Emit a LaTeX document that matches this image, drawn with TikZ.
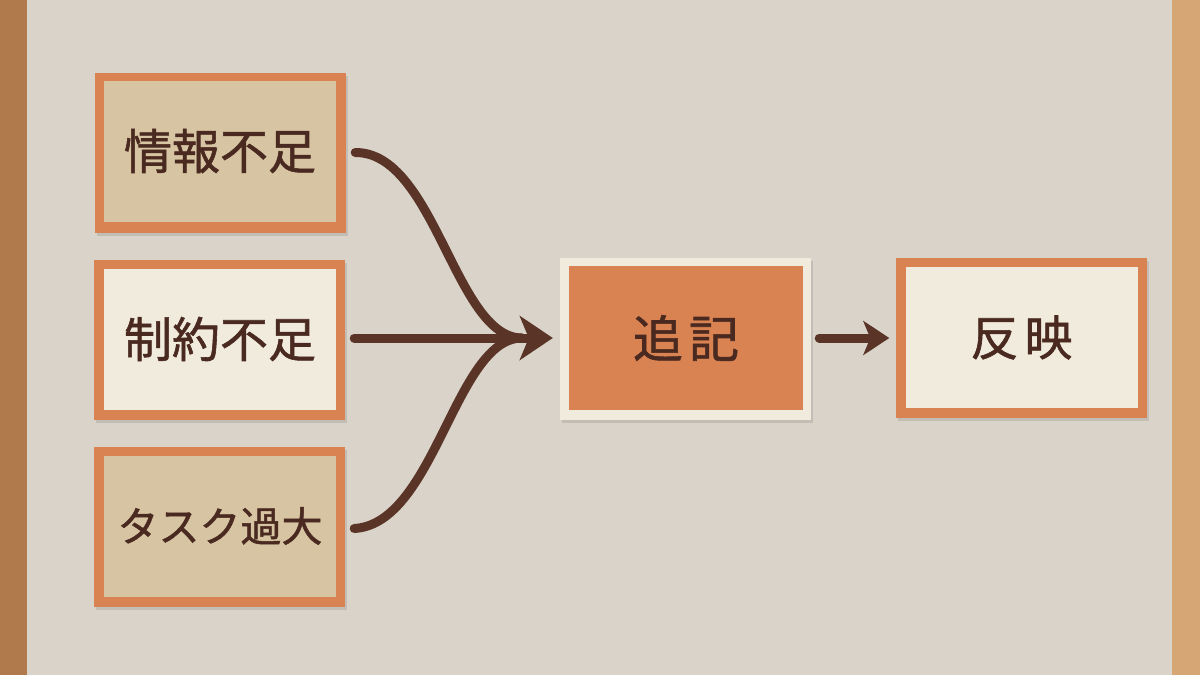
\documentclass[tikz,border=0pt]{standalone}
\usepackage{fontspec}
\newfontfamily\cjk[FakeBold=1.2]{Noto Sans CJK JP}
\usetikzlibrary{arrows.meta,shadows}
\definecolor{woodL}{HTML}{B07A4C}
\definecolor{woodR}{HTML}{D6A675}
\definecolor{linen}{HTML}{D9D3C9}
\definecolor{orng}{HTML}{D98252}
\definecolor{kraft}{HTML}{D7C4A3}
\definecolor{cream}{HTML}{F1EBDE}
\definecolor{ink}{HTML}{4A2A20}
\definecolor{arrowc}{HTML}{5A3427}
\tikzset{
  cardout/.style={draw=none, minimum width=#1, drop shadow={shadow xshift=2pt, shadow yshift=-3pt, opacity=0.25}},
  outerO/.style={cardout=251pt, fill=orng, minimum height=160pt, inner sep=0pt},
  outerC/.style={cardout=251pt, fill=cream, minimum height=162pt, inner sep=0pt},
  innerK/.style={fill=kraft, minimum width=232pt, minimum height=141pt, inner sep=0pt, text=ink, font=\cjk\fontsize{48}{52}\selectfont},
  innerC/.style={fill=cream, minimum width=232pt, minimum height=141pt, inner sep=0pt, text=ink, font=\cjk\fontsize{48}{52}\selectfont},
  innerO/.style={fill=orng, minimum width=234pt, minimum height=144pt, inner sep=0pt, text=ink, font=\cjk\fontsize{50}{54}\selectfont},
  conn/.style={draw=arrowc, line width=9pt, line cap=round},
  bighead/.style={-{Stealth[length=33pt,width=44pt,inset=9pt]}},
  smallhead/.style={-{Stealth[length=26pt,width=34pt,inset=7pt]}}
}
\begin{document}
\begin{tikzpicture}[x=1pt,y=-1pt]
\useasboundingbox (0,0) rectangle (1200,675);
\fill[woodL] (0,0) rectangle (27,675);
\fill[woodR] (1172,0) rectangle (1200,675);
\fill[linen] (27,0) rectangle (1172,675);

% left cards
\node[outerO] (c1o) at (220.5,152.5) {};
\node[innerK] (c1) at (220,151) {情報不足};
\node[outerO] (c2o) at (219.5,340) {};
\node[innerC] (c2) at (220,339) {制約不足};
\node[outerO] (c3o) at (219.5,526.5) {};
\node[innerK, font=\cjk\fontsize{41}{46}\selectfont] (c3) at (220,526) {タスク過大};

% middle card
\node[outerC] (mo) at (685.5,339) {};
\node[innerO] (m) at (686,338) {追\hspace{6pt}記};

% right card
\node[outerO, minimum height=160pt] (ro) at (1021,338) {};
\node[innerC] (r) at (1021.5,337.5) {反\hspace{6pt}映};

% connectors
\coordinate (join) at (522,338);
\draw[conn] ([xshift=9pt]c1o.east) .. controls (435,152) and (455,338) .. (join);
\draw[conn] ([xshift=9pt,yshift=-2pt]c3o.east) .. controls (435,524) and (455,338) .. (join);
\draw[conn, bighead] ([xshift=9pt]c2o.east |- join) -- ([xshift=-7pt]mo.west |- join);
\draw[conn, smallhead] ([xshift=8pt]mo.east |- join) -- ([xshift=-6pt]ro.west |- join);
\end{tikzpicture}
\end{document}
